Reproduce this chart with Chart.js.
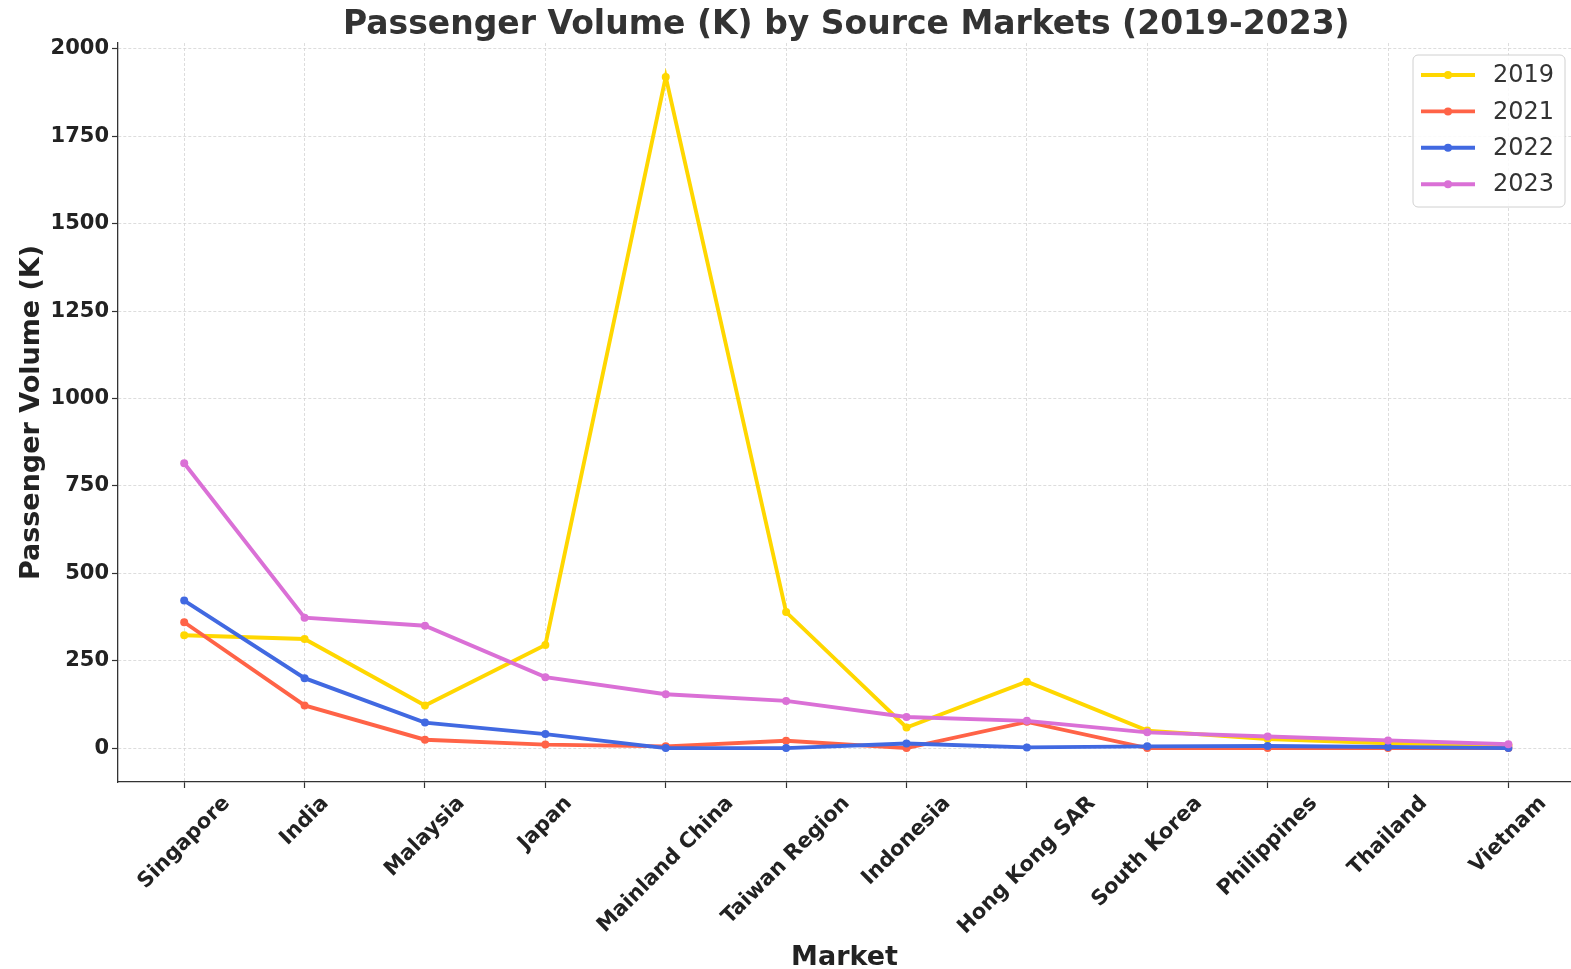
<!DOCTYPE html>
<html>
<head>
<meta charset="utf-8">
<script src="https://cdn.jsdelivr.net/npm/chart.js@4.4.0/dist/chart.umd.min.js"></script>
<style>
  html, body { margin: 0; padding: 0; background: #fff; overflow: hidden; }
  #chart { display: block; }
</style>
</head>
<body>
<canvas id="chart" width="1571" height="969"></canvas>
<script>
// Datos (miles de pasajeros)
const markets = ['Singapore', 'India', 'Malaysia', 'Japan', 'Mainland China', 'Taiwan Region',
                 'Indonesia', 'Hong Kong SAR', 'South Korea', 'Philippines', 'Thailand', 'Vietnam'];
const years = ['2019', '2021', '2022', '2023'];
const vol2019 = [323, 312, 122, 295, 1920, 389, 59, 190, 50, 26, 14, 8];
const vol2021 = [360, 122, 24, 10, 5, 21, 0, 75, 0, 0, 0, 0];
const vol2022 = [422, 200, 73, 40, 0, 0, 13, 2, 5, 6, 3, 0];
const vol2023 = [815, 373, 350, 203, 154, 135, 89, 78, 45, 33, 22, 11];
const yTicks = [0, 250, 500, 750, 1000, 1250, 1500, 1750, 2000];
const chartTitle = 'Passenger Volume (K) by Source Markets (2019-2023)';

const lineColors = ['#FFD700', '#FF6347', '#4169E1', '#DA70D6'];
const FONT = "'DejaVu Sans', sans-serif";

function toPoints(arr) {
    return arr.map((v, i) => ({ x: i, y: v }));
}

const allSeries = [vol2019, vol2021, vol2022, vol2023];

const datasets = allSeries.map((s, k) => ({
    label: years[k],
    data: toPoints(s),
    borderColor: lineColors[k],
    backgroundColor: lineColors[k],
    pointBackgroundColor: lineColors[k],
    pointBorderColor: lineColors[k],
    pointRadius: 4,
    pointBorderWidth: 0,
    borderWidth: 3.9,
    tension: 0,
    order: allSeries.length - k   // la última serie queda encima, como en matplotlib
}));

// Título centrado sobre el área de datos
const titlePlugin = {
    id: 'plotTitle',
    afterDraw(chart) {
        const ctx = chart.ctx;
        const xs = chart.scales.x;
        const cx = (xs.getPixelForValue(-0.55) + xs.getPixelForValue(11.55)) / 2;
        ctx.save();
        ctx.font = 'bold 33px ' + FONT;
        ctx.fillStyle = '#333';
        ctx.textAlign = 'center';
        ctx.textBaseline = 'middle';
        ctx.fillText(chartTitle, cx, 25);
        ctx.restore();
    }
};

// Etiquetas del eje X rotadas 45° y centradas en el tick (estilo matplotlib)
const xLabelsPlugin = {
    id: 'xLabels',
    afterDraw(chart) {
        const ctx = chart.ctx;
        const xs = chart.scales.x;
        const fs = 21;
        ctx.save();
        ctx.font = 'bold ' + fs + 'px ' + FONT;
        ctx.fillStyle = '#222';
        ctx.textAlign = 'center';
        ctx.textBaseline = 'middle';
        const top = chart.chartArea.bottom + 6 + 3.5;
        markets.forEach((m, i) => {
            const x = xs.getPixelForValue(i);
            const w = ctx.measureText(m).width;
            const h = fs * 1.16;
            const bboxH = (w + h) * Math.SQRT1_2;
            ctx.save();
            ctx.translate(x, top + bboxH / 2);
            ctx.rotate(-Math.PI / 4);
            ctx.fillText(m, 0, 0);
            ctx.restore();
        });
        ctx.restore();
    }
};

// Leyenda con línea + marcador
const legendPlugin = {
    id: 'lineLegend',
    afterDraw(chart) {
        const ctx = chart.ctx;
        const bx = 1413, by = 55, bw = 152, bh = 152;
        ctx.save();
        ctx.beginPath();
        ctx.roundRect(bx, by, bw, bh, 5);
        ctx.fillStyle = 'rgba(255,255,255,0.85)';
        ctx.fill();
        ctx.lineWidth = 1;
        ctx.strokeStyle = '#d0d0d0';
        ctx.stroke();
        ctx.font = '24px ' + FONT;
        ctx.textBaseline = 'middle';
        ctx.textAlign = 'left';
        chart.data.datasets.forEach((ds, k) => {
            const cy = 75 + k * 36.4;
            ctx.strokeStyle = ds.borderColor;
            ctx.lineWidth = 3.9;
            ctx.beginPath();
            ctx.moveTo(1421, cy);
            ctx.lineTo(1475, cy);
            ctx.stroke();
            ctx.fillStyle = ds.borderColor;
            ctx.beginPath();
            ctx.arc(1448, cy, 4, 0, Math.PI * 2);
            ctx.fill();
            ctx.fillStyle = '#333';
            ctx.fillText(ds.label, 1493, cy + 1);
        });
        ctx.restore();
    }
};

new Chart(document.getElementById('chart').getContext('2d'), {
    type: 'line',
    data: { datasets: datasets },
    plugins: [titlePlugin, xLabelsPlugin, legendPlugin],
    options: {
        responsive: false,
        animation: false,
        layout: { padding: { top: 43, left: 0, right: 0, bottom: 0 }, autoPadding: false },
        plugins: {
            legend: { display: false },
            tooltip: { enabled: false },
            title: { display: false }
        },
        scales: {
            x: {
                type: 'linear',
                min: -0.55,
                max: 11.52,
                afterFit(scale) { scale.height = 187; },
                ticks: { display: false, stepSize: 1, includeBounds: false, autoSkip: false },
                grid: { color: '#d4d4d4', lineWidth: 0.8, drawTicks: true, tickLength: 6, tickColor: '#333', tickWidth: 1.2, tickBorderDash: [] },
                border: { display: true, color: '#333', width: 1.3, dash: [3, 2] },
                title: {
                    display: true, text: 'Market', color: '#222',
                    font: { family: FONT, size: 27, weight: 'bold', lineHeight: 1 },
                    padding: { top: 0, bottom: -2 }
                }
            },
            y: {
                type: 'linear',
                min: -97,
                max: 2017,
                afterFit(scale) { scale.width = 118; },
                afterBuildTicks(scale) { scale.ticks = yTicks.map(v => ({ value: v })); },
                ticks: {
                    color: '#222', padding: 3,
                    font: { family: FONT, size: 21, weight: 'bold' },
                    callback: (v) => String(v)
                },
                grid: { color: '#d4d4d4', lineWidth: 0.8, drawTicks: true, tickLength: 6, tickColor: '#333', tickWidth: 1.2, tickBorderDash: [] },
                border: { display: true, color: '#333', width: 1.3, dash: [3, 2] },
                title: {
                    display: true, text: 'Passenger Volume (K)', color: '#222',
                    font: { family: FONT, size: 27, weight: 'bold', lineHeight: 1 },
                    padding: { top: 18, bottom: 0 }
                }
            }
        }
    }
});
</script>
</body>
</html>
